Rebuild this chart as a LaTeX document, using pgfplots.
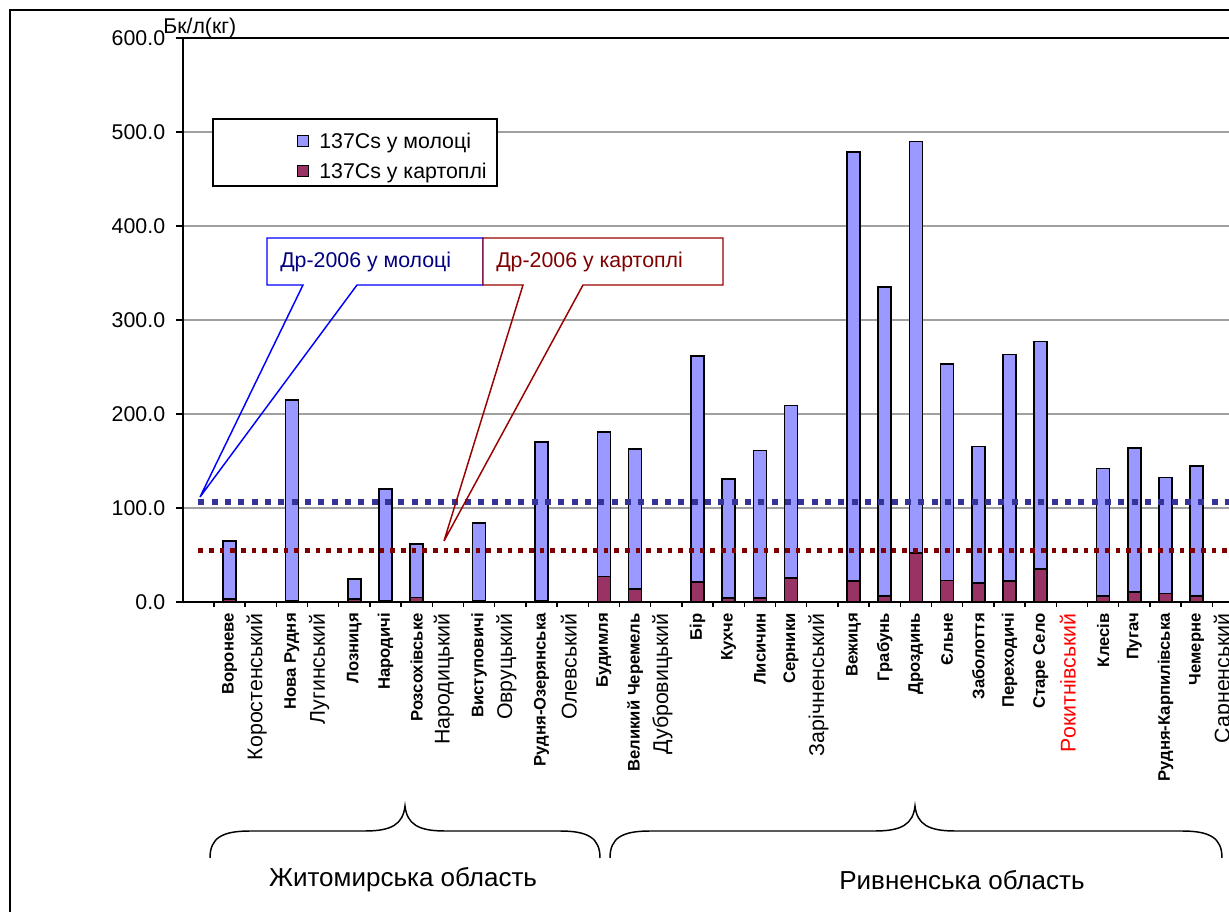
\documentclass[border=0pt]{standalone}
\usepackage{fontspec}
\setmainfont{Liberation Sans}
\usepackage{pgfplots}
\pgfplotsset{compat=1.18}

\definecolor{milk}{HTML}{9999FF}
\definecolor{potato}{HTML}{993366}
\definecolor{milkline}{HTML}{333399}
\definecolor{potline}{HTML}{800000}
\definecolor{gridgray}{HTML}{A0A0A0}
\definecolor{calblue}{HTML}{0000FF}
\definecolor{caltext}{HTML}{000080}
\definecolor{calred}{HTML}{990000}

% village (bold, small) and district (regular, larger) tick labels
\newcommand{\vl}[1]{{\fontsize{12.5}{14}\selectfont\bfseries #1}}
\newcommand{\dl}[1]{\raisebox{0pt}[\height][\dimexpr\depth+6pt\relax]{\fontsize{16}{19}\selectfont #1}\hspace{4pt}}

\pgfplotsset{sqleg/.style={legend image code/.code={%
  \draw[##1, line width=0.8pt] (0pt,-2.7pt) rectangle (8.25pt,5.55pt);}}}

\begin{document}
\begin{tikzpicture}
\useasboundingbox (0,0) rectangle (921.75pt,-684pt);
\clip (0,0) rectangle (921.75pt,-684pt);
\begin{axis}[
    at={(137.025pt,-451.5pt)}, anchor=south west,
    width=819pt, height=423pt, scale only axis,
    xmin=-0.5, xmax=34.5, ymin=0, ymax=600,
    axis line style={line width=1.5pt},
    ytick={0,100,...,600},
    yticklabel style={font=\fontsize{16}{19}\selectfont,
        /pgf/number format/fixed, /pgf/number format/fixed zerofill,
        /pgf/number format/precision=1, /pgf/number format/assume math mode=true},
    yticklabel shift=4.4pt,
    ymajorgrids, grid style={gridgray, line width=1.1pt},
    tick align=outside, ytick pos=left, xtick pos=bottom,
    major tick length=5.25pt, minor tick length=3.75pt,
    tick style={black, line width=1.1pt},
    xtick={0,...,33}, minor x tick num=1, major x tick style={draw=none},
    xticklabels={{}, {\vl{Вороневе}}, {\dl{Коростенський}}, {\vl{Нова Рудня}}, {\dl{Лугинський}},
        {\vl{Лозниця}}, {\vl{Народичі}}, {\vl{Розсохівське}}, {\dl{Народицький}},
        {\vl{Виступовичі}}, {\dl{Овруцький}}, {\vl{Рудня-Озерянська}}, {\dl{Олевський}},
        {\vl{Будимля}}, {\vl{Великий Черемель}}, {\dl{Дубровицький}}, {\vl{Бір}},
        {\vl{Кухче}}, {\vl{Лисичин}}, {\vl{Серники}}, {\dl{Зарічненський}},
        {\vl{Вежиця}}, {\vl{Грабунь}}, {\vl{Дроздинь}}, {\vl{Єльне}}, {\vl{Заболоття}},
        {\vl{Переходичі}}, {\vl{Старе Село}}, {\dl{\color{red}Рокитнівський}},
        {\vl{Клесів}}, {\vl{Пугач}}, {\vl{Рудня-Карпилівська}}, {\vl{Чемерне}},
        {\dl{Сарненський}}},
    xticklabel style={rotate=90, anchor=east, inner sep=0pt},
    xticklabel shift=3pt,
    legend cell align=left,
    legend style={draw=none, fill=none, inner sep=0pt, row sep=7pt,
        at={(axis cs:3.163,499.4)}, anchor=north west,
        /tikz/every odd column/.append style={column sep=7.5pt},
        nodes={inner sep=0pt, text height=12pt, text depth=3.5pt,
               font=\fontsize{16}{19}\selectfont}},
]
% legend frame, white, over the grid
\draw[black, line width=1.1pt, fill=white] (axis cs:0.471,513.8) rectangle (axis cs:9.574,442.6);

% 137Cs in milk
\addplot[ybar, bar width=9.75pt, bar shift=0pt, fill=milk, draw=black, line width=1.2pt, sqleg]
  coordinates {(1,65) (3,215) (5,24.5) (6,120.5) (7,62) (9,84) (11,170) (13,181) (14,163)
  (16,262) (17,131) (18,161) (19,209) (21,479) (22,335) (23,490) (24,253) (25,165.5)
  (26,263.5) (27,277) (29,142) (30,164) (31,132.5) (32,144.5)};
\addlegendentry{137Cs у молоці}
% 137Cs in potatoes
\addplot[ybar, bar width=9.75pt, bar shift=0pt, fill=potato, draw=black, line width=1.2pt, sqleg]
  coordinates {(1,3) (3,1) (5,3) (6,1) (7,5) (9,1) (11,1) (13,27) (14,14)
  (16,21) (17,4.5) (18,4.5) (19,25.5) (21,22.5) (22,6.5) (23,52) (24,23) (25,20)
  (26,22.5) (27,35) (29,6.5) (30,10.5) (31,9) (32,6.5)};
\addlegendentry{137Cs у картоплі}

% permissible levels DR-2006
\addplot[milkline, line width=4.5pt, dash pattern=on 4.5pt off 5.5pt, forget plot]
  coordinates {(0,106) (34.5,106)};
\addplot[potline, line width=3.4pt, dash pattern=on 3.4pt off 4.6pt, forget plot]
  coordinates {(0,55) (34.5,55)};
\end{axis}

\begin{scope}[x=0.75pt,y=-0.75pt]
  \draw[line width=1.5pt] (10,10) rectangle (1300,1000);
  \node[anchor=west, inner sep=0pt, font=\fontsize{16}{19}\selectfont] at (163,28) {Бк/л(кг)};

  % callouts
  \fill[white] (267,238) rectangle (483,285);
  \draw[calblue, line width=1.1pt] (303,285) -- (267,285) -- (267,238) -- (483,238) -- (483,285)
     -- (357,285) -- (200,497) -- cycle;
  \node[anchor=west, inner sep=0pt, text=caltext, font=\fontsize{16}{19}\selectfont] at (280,261.5) {Др-2006 у молоці};
  \fill[white] (483,238) rectangle (723,285);
  \draw[calred, line width=1.1pt] (523,285) -- (483,285) -- (483,238) -- (723,238) -- (723,285)
     -- (583,285) -- (444,541) -- cycle;
  \node[anchor=west, inner sep=0pt, text=potline, font=\fontsize{16}{19}\selectfont] at (496,261.5) {Др-2006 у картоплі};

  % braces
  \draw[line width=1.1pt] (210,858) .. controls (210,838) and (222,831) .. (250,831) -- (365,831)
     .. controls (392,831) and (403,824) .. (405,806) .. controls (407,824) and (418,831) .. (445,831)
     -- (560,831) .. controls (588,831) and (600,838) .. (600,858);
  \draw[line width=1.1pt] (610,858) .. controls (610,838) and (622,831) .. (650,831) -- (875,831)
     .. controls (902,831) and (913,824) .. (915,806) .. controls (917,824) and (928,831) .. (955,831)
     -- (1182,831) .. controls (1210,831) and (1222,838) .. (1222,858);
  \node[font=\fontsize{19.5}{23}\selectfont] at (403,880) {Житомирська область};
  \node[font=\fontsize{19.5}{23}\selectfont] at (962,880) {Ривненська область};
\end{scope}
\end{tikzpicture}
\end{document}
